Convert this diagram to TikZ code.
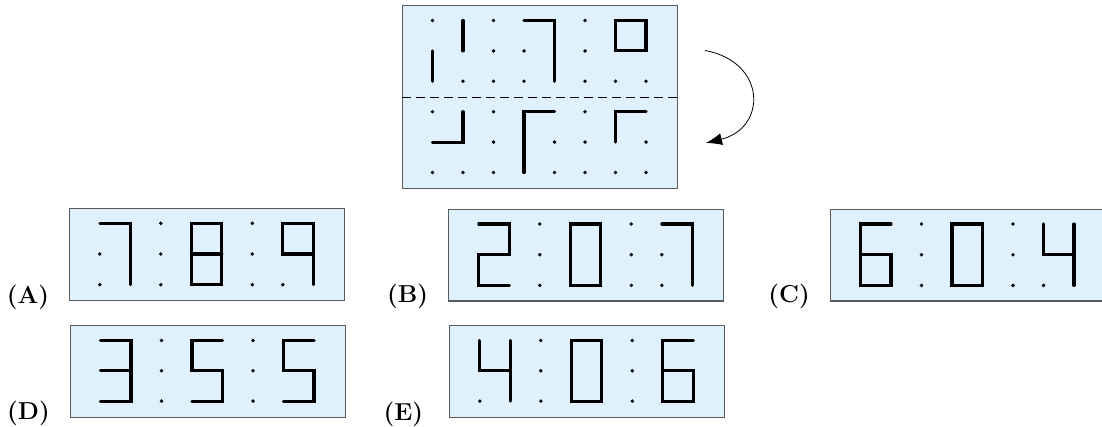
\documentclass[tikz,border=0pt]{standalone}
\usepackage{fontspec}
\usepackage{xcolor}
\usepackage{tikz}
\usetikzlibrary{arrows.meta}
\definecolor{lcdblue}{RGB}{223,241,252}
\definecolor{rimgray}{RGB}{90,90,90}
\tikzset{
  panel/.style={draw=rimgray, fill=lcdblue, line width=1.1pt, inner sep=0pt, anchor=north west, minimum width=274.5pt, minimum height=91.5pt},
  seg/.style={line width=3.1pt, line cap=round, line join=miter},
  optlabel/.style={font=\fontsize{24.5}{28}\selectfont\bfseries, inner sep=0pt, anchor=base east},
  fold/.style={dash pattern=on 8.5pt off 5.5pt, line width=0.9pt},
  flip/.style={-{Latex[length=16pt,width=12pt]}, line width=0.8pt}
}
\begin{document}
\begin{tikzpicture}[x=1pt, y=-1pt]
  \useasboundingbox (0,0) rectangle (1102,427);
  \node[panel, minimum height=183pt] (puzzle) at (402,5) {};
  \draw[fold] (puzzle.west) -- (puzzle.east);
  \coordinate (flipfrom) at (705,50.5);
  \coordinate (flipto) at (706,143);
  \draw[flip] (flipfrom) .. controls (767,62) and (767,128) .. (flipto);
  \begin{scope}[shift={([xshift=30.5pt, yshift=-15.5pt]puzzle.north west)}, x=30.5pt, y=-30.4pt]
    \draw[seg] (1,0) -- (1,1);
    \draw[seg] (0,1) -- (0,2);
    \draw[seg] (3,0) -- (4,0) -- (4,2);
    \draw[seg] (6,0) -- (7,0) -- (7,1) -- (6,1) -- cycle;
    \fill (0,0) circle (1.9pt) (1,2) circle (1.9pt) (2,0) circle (1.9pt) (2,1) circle (1.9pt) (2,2) circle (1.9pt);
    \fill (3,1) circle (1.9pt) (3,2) circle (1.9pt) (5,0) circle (1.9pt) (5,1) circle (1.9pt) (5,2) circle (1.9pt);
    \fill (6,2) circle (1.9pt) (7,2) circle (1.9pt);
    \draw[seg] (1,3) -- (1,4) -- (0,4);
    \draw[seg] (4,3) -- (3,3) -- (3,5);
    \draw[seg] (7,3) -- (6,3) -- (6,4);
    \fill (0,3) circle (1.9pt) (0,5) circle (1.9pt) (1,5) circle (1.9pt) (2,3) circle (1.9pt) (2,4) circle (1.9pt) (2,5) circle (1.9pt);
    \fill (4,4) circle (1.9pt) (4,5) circle (1.9pt) (5,3) circle (1.9pt) (5,4) circle (1.9pt) (5,5) circle (1.9pt);
    \fill (7,4) circle (1.9pt) (6,5) circle (1.9pt) (7,5) circle (1.9pt);
  \end{scope}
  \node[panel] (pA) at (69.3,208.3) {};
  \node[panel] (pB) at (448.3,209) {};
  \node[panel] (pC) at (830,209) {};
  \node[panel] (pD) at (70,325) {};
  \node[panel] (pE) at (449.3,325) {};
  \node[optlabel] (labA) at ([xshift=-20pt, yshift=-3pt]pA.south west) {(A)};
  \node[optlabel] (labB) at ([xshift=-20pt, yshift=-1pt]pB.south west) {(B)};
  \node[optlabel] (labC) at ([xshift=-20pt, yshift=-1pt]pC.south west) {(C)};
  \node[optlabel] (labD) at ([xshift=-20pt, yshift=-2pt]pD.south west) {(D)};
  \node[optlabel] (labE) at ([xshift=-26pt, yshift=-3pt]pE.south west) {(E)};
  \begin{scope}[shift={([xshift=30.5pt, yshift=-15pt]pA.north west)}, x=30.5pt, y=-30.7pt]
    \draw[seg] (0,0) -- (1,0) -- (1,2);
    \draw[seg] (3,0) rectangle (4,2);
    \draw[seg] (3,1) -- (4,1);
    \draw[seg] (7,2) -- (7,0) -- (6,0) -- (6,1) -- (7,1);
    \fill (0,1) circle (1.9pt) (0,2) circle (1.9pt) (2,0) circle (1.9pt) (2,1) circle (1.9pt) (2,2) circle (1.9pt);
    \fill (5,0) circle (1.9pt) (5,1) circle (1.9pt) (5,2) circle (1.9pt) (6,2) circle (1.9pt);
  \end{scope}
  \begin{scope}[shift={([xshift=30.5pt, yshift=-15pt]pB.north west)}, x=30.5pt, y=-30.7pt]
    \draw[seg] (0,0) -- (1,0) -- (1,1) -- (0,1) -- (0,2) -- (1,2);
    \draw[seg] (3,0) rectangle (4,2);
    \draw[seg] (6,0) -- (7,0) -- (7,2);
    \fill (2,0) circle (1.9pt) (2,1) circle (1.9pt) (2,2) circle (1.9pt);
    \fill (5,0) circle (1.9pt) (5,1) circle (1.9pt) (5,2) circle (1.9pt) (6,1) circle (1.9pt) (6,2) circle (1.9pt);
  \end{scope}
  \begin{scope}[shift={([xshift=30.5pt, yshift=-15pt]pC.north west)}, x=30.5pt, y=-30.7pt]
    \draw[seg] (1,0) -- (0,0) -- (0,2) -- (1,2) -- (1,1) -- (0,1);
    \draw[seg] (3,0) rectangle (4,2);
    \draw[seg] (6,0) -- (6,1) -- (7,1);
    \draw[seg] (7,0) -- (7,2);
    \fill (2,0) circle (1.9pt) (2,1) circle (1.9pt) (2,2) circle (1.9pt);
    \fill (5,0) circle (1.9pt) (5,1) circle (1.9pt) (5,2) circle (1.9pt) (6,2) circle (1.9pt);
  \end{scope}
  \begin{scope}[shift={([xshift=30.5pt, yshift=-15.5pt]pD.north west)}, x=30.5pt, y=-30.3pt]
    \draw[seg] (0,0) -- (1,0) -- (1,2) -- (0,2);
    \draw[seg] (0,1) -- (1,1);
    \draw[seg] (4,0) -- (3,0) -- (3,1) -- (4,1) -- (4,2) -- (3,2);
    \draw[seg] (7,0) -- (6,0) -- (6,1) -- (7,1) -- (7,2) -- (6,2);
    \fill (2,0) circle (1.9pt) (2,1) circle (1.9pt) (2,2) circle (1.9pt);
    \fill (5,0) circle (1.9pt) (5,1) circle (1.9pt) (5,2) circle (1.9pt);
  \end{scope}
  \begin{scope}[shift={([xshift=30.5pt, yshift=-15.5pt]pE.north west)}, x=30.5pt, y=-30.3pt]
    \draw[seg] (0,0) -- (0,1) -- (1,1);
    \draw[seg] (1,0) -- (1,2);
    \draw[seg] (3,0) rectangle (4,2);
    \draw[seg] (7,0) -- (6,0) -- (6,2) -- (7,2) -- (7,1) -- (6,1);
    \fill (0,2) circle (1.9pt) (2,0) circle (1.9pt) (2,1) circle (1.9pt) (2,2) circle (1.9pt);
    \fill (5,0) circle (1.9pt) (5,1) circle (1.9pt) (5,2) circle (1.9pt);
  \end{scope}
\end{tikzpicture}
\end{document}
